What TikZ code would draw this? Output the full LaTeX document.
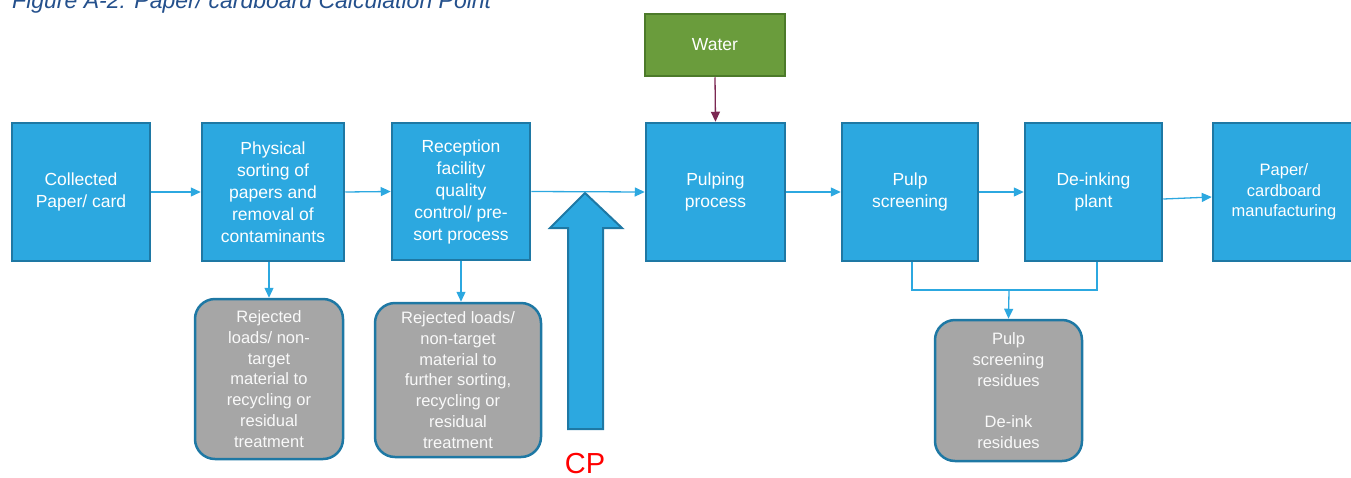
\documentclass[tikz,border=0pt]{standalone}
\usepackage{fontspec}
\setmainfont{Liberation Sans}
\usetikzlibrary{arrows.meta}
\definecolor{bfill}{HTML}{2CA8E0}
\definecolor{bdraw}{HTML}{1E78A4}
\definecolor{gfill}{HTML}{A6A6A6}
\definecolor{wfill}{HTML}{6A9C3C}
\definecolor{wdraw}{HTML}{4C7A2A}
\definecolor{wline}{HTML}{7B2752}
\definecolor{ttl}{HTML}{24508C}
\definecolor{cpred}{HTML}{FF0000}
\tikzset{
  bluebox/.style={draw=bdraw, fill=bfill, line width=2.5pt, text=white, align=center, inner sep=0pt,
    font=\fontsize{17.5}{22}\selectfont},
  graybox/.style={draw=bdraw, fill=gfill, line width=2.5pt, rounded corners=20pt, text=white!95!gray, align=center, inner sep=0pt,
    font=\fontsize{16.5}{20.7}\selectfont},
  flow/.style={draw=bfill, line width=1.3pt, -{Triangle[length=10pt,width=9pt]}},
  plainflow/.style={draw=bfill, line width=1.3pt},
}
\begin{document}
\begin{tikzpicture}[x=1pt,y=-1pt]
\useasboundingbox (0,0) rectangle (1351,477);
% title
\node[anchor=base west, inner sep=0pt, text=ttl, font=\fontsize{23}{26}\selectfont\itshape] (title) at (12,8) {Figure A-2: Paper/ cardboard Calculation Point};
% blue boxes
\node[bluebox, minimum width=138pt, minimum height=138pt] (collected) at (81,192) {Collected\\Paper/ card};
\node[bluebox, minimum width=142pt, minimum height=138pt] (physical) at (273,192) {Physical\\sorting of\\papers and\\removal of\\contaminants};
\node[bluebox, minimum width=138pt, minimum height=137pt] (reception) at (461,191.5) {Reception\\facility\\quality\\control/ pre-\\sort process};
\node[draw=wdraw, fill=wfill, line width=2.5pt, text=white, inner sep=0pt, minimum width=140pt, minimum height=62pt, font=\fontsize{17.5}{22}\selectfont] (water) at (715,45) {Water};
\node[bluebox, minimum width=139pt, minimum height=138pt] (pulping) at (715.5,192) {Pulping\\process};
\node[bluebox, minimum width=136pt, minimum height=138pt] (screening) at (910,192) {Pulp\\screening};
\node[bluebox, minimum width=137pt, minimum height=138pt] (deinking) at (1093.5,192) {De-inking\\plant};
\node[bluebox, minimum width=142pt, minimum height=138pt, font=\fontsize{16.5}{20.5}\selectfont] (paper) at (1284,192) {Paper/\\cardboard\\manufacturing};
% gray boxes
\node[graybox, minimum width=148pt, minimum height=160pt] (rej1) at (269,379) {Rejected\\loads/ non-\\target\\material to\\recycling or\\residual\\treatment};
\node[graybox, minimum width=166pt, minimum height=154pt] (rej2) at (458,380) {Rejected loads/\\non-target\\material to\\further sorting,\\recycling or\\residual\\treatment};
\node[graybox, minimum width=147pt, minimum height=141pt] (resid) at (1008.5,390.5) {Pulp\\screening\\residues\\[20.7pt]De-ink\\residues};
% CP arrow
\draw[draw=bdraw, fill=bfill, line width=2pt, line join=miter]
  (585,193) -- (622,228) -- (603,228) -- (603,429) -- (568,429) -- (568,228) -- (550,228) -- cycle;
\node[text=cpred, inner sep=0pt, font=\fontsize{29}{32}\selectfont] (cp) at (585,464) {CP};
% main flow
\draw[flow] (collected.east) -- (physical.west);
\draw[flow] (physical.east) -- (reception.west);
\draw[flow] (reception.east) -- (pulping.west);
\draw[flow] (pulping.east) -- (screening.west);
\draw[flow] (screening.east) -- (deinking.west);
\draw[flow] ([yshift=-7pt]deinking.east) -- ([yshift=-5pt]paper.west);
\draw[draw=wline, line width=1.3pt, -{Triangle[length=10pt,width=9pt]}] (water.south) -- (pulping.north);
% rejects
\draw[flow] (physical.south -| rej1.north) -- (rej1.north);
\draw[flow] (reception.south) -- (reception.south |- rej2.north);
% residues
\coordinate (join) at (1009,290);
\draw[plainflow] ([xshift=2pt]screening.south) |- (join) -| ([xshift=3.5pt]deinking.south);
\draw[flow] (join) -- (resid.north);
\end{tikzpicture}
\end{document}
